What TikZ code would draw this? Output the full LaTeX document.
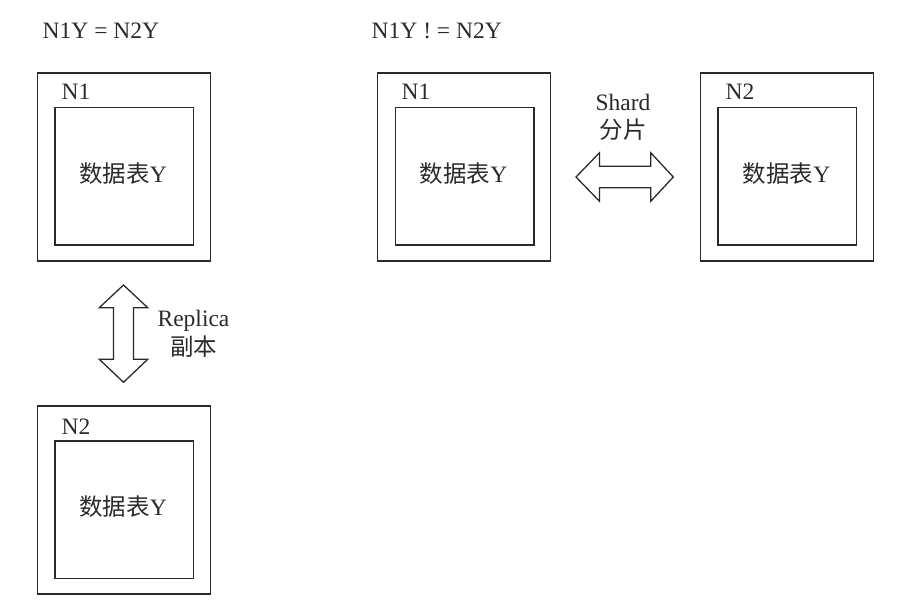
\documentclass[tikz,border=0pt]{standalone}
\usepackage{fontspec}
\setmainfont{Liberation Serif}
\newfontfamily\cjk{Noto Sans CJK SC}
\definecolor{ink}{HTML}{2A2A2A}
\begin{document}
\begin{tikzpicture}[x=1pt,y=-1pt,
  every node/.style={text=ink,font=\fontsize{23.5}{28.5}\selectfont},
  outerbox/.style={draw=ink,line width=1.4pt,minimum width=173pt,minimum height=188pt,inner sep=0pt},
  innerbox/.style={draw=ink,line width=1.4pt,minimum width=138.5pt,minimum height=137.5pt,inner sep=0pt},
  lbl/.style={anchor=west,inner sep=0pt},
  blockarrow/.style={draw=ink,line width=1.3pt,line join=miter}]
\useasboundingbox (0,0) rectangle (919,611);

% titles
\node[anchor=west,inner sep=0pt] (t1) at (42.5,30.5) {N1Y = N2Y};
\node[anchor=west,inner sep=0pt] (t2) at (371.5,30.5) {N1Y ! = N2Y};

% left N1
\node[outerbox] (o1) at (124,167) {};
\node[innerbox] (i1) at (124.3,176.3) {};
\node[lbl] (l1) at (61.5,92) {N1};
\node (d1) at (123,174) {{\cjk 数据表}Y};

% bottom N2
\node[outerbox] (o2) at (124,500) {};
\node[innerbox] (i2) at (124.3,509.7) {};
\node[lbl] (l2) at (61.5,427) {N2};
\node (d2) at (123,507) {{\cjk 数据表}Y};

% right N1
\node[outerbox] (o3) at (464,167) {};
\node[innerbox] (i3) at (464.7,176.3) {};
\node[lbl] (l3) at (401.5,92) {N1};
\node (d3) at (463.5,174) {{\cjk 数据表}Y};

% right N2
\node[outerbox] (o4) at (787,167) {};
\node[innerbox] (i4) at (787.3,176.3) {};
\node[lbl] (l4) at (725.5,92) {N2};
\node (d4) at (786.5,174) {{\cjk 数据表}Y};

% vertical replica arrow
\draw[blockarrow] (123.5,285) -- (147.7,307.7) -- (133.5,307.7) -- (133.5,359.3) -- (147.7,359.3)
  -- (123.5,382.3) -- (99.3,359.3) -- (113.5,359.3) -- (113.5,307.7) -- (99.3,307.7) -- cycle;
\node[align=center,inner sep=0pt] (rep) at (193.5,334) {Replica\\{\cjk 副本}};

% horizontal shard arrow
\draw[blockarrow] (576,177) -- (599.5,152.7) -- (599.5,166.2) -- (650.7,166.2) -- (650.7,152.7)
  -- (673.3,177) -- (650.7,201.3) -- (650.7,187.8) -- (599.5,187.8) -- (599.5,201.3) -- cycle;
\node[align=center,inner sep=0pt] (sh) at (623,117.5) {Shard\\{\cjk 分片}};
\end{tikzpicture}
\end{document}
